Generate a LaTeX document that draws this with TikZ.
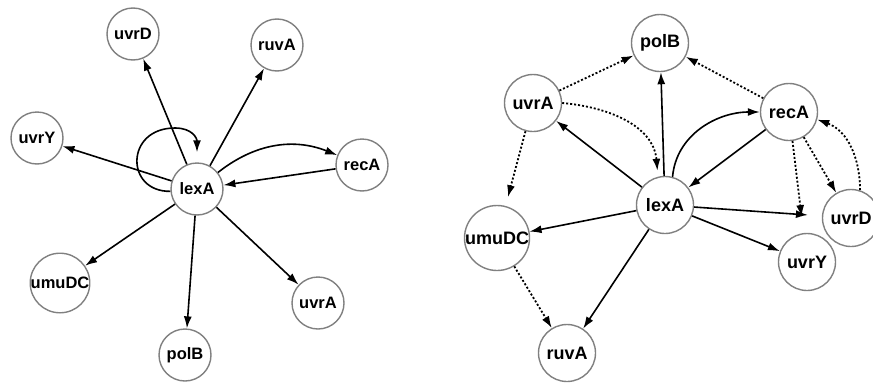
\documentclass[tikz,border=0pt]{standalone}
\usepackage{fontspec}
\setmainfont{Liberation Sans}
\usetikzlibrary{arrows.meta}
\begin{document}
\begin{tikzpicture}[x=1pt,y=-1pt,
  gnode/.style={circle,draw=black!50,line width=1.4pt,fill=white,inner sep=0pt,font=\bfseries\fontsize{16.5}{16.5}\selectfont,minimum size=52pt},
  rnode/.style={gnode,minimum size=57pt,font=\bfseries\fontsize{18}{18}\selectfont},
  sedge/.style={line width=1.6pt,-{Latex[length=12pt,width=8pt]}},
  dedge/.style={sedge,dash pattern=on 2pt off 2pt,line width=1.8pt}]
\useasboundingbox (0,0) rectangle (873,383);

% ---------- left graph ----------
\node[gnode] (LuvrD) at (133,34) {uvrD};
\node[gnode] (LruvA) at (277,45) {ruvA};
\node[gnode] (LuvrY) at (37,138) {uvrY};
\node[gnode] (LrecA) at (362,165) {recA};
\node[gnode] (LlexA) at (197,189) {lexA};
\node[gnode] (LumuDC) at (60,283) {umuDC};
\node[gnode] (LpolB) at (185,355) {polB};
\node[gnode] (LuvrA) at (318,303) {uvrA};

\draw[sedge] (LlexA) -- (LuvrD);
\draw[sedge] (LlexA) -- (LruvA);
\draw[sedge] (LlexA) -- (LuvrY);
\draw[sedge] (LlexA) to[bend left=30] (LrecA);
\draw[sedge] (LrecA) -- (LlexA);
\draw[sedge] (LlexA) -- (LumuDC);
\draw[sedge] (LlexA) -- (LpolB);
\draw[sedge] (LlexA) -- (LuvrA);
\draw[sedge] (LlexA.185) .. controls (125,192) and (125,128) .. (175,128)
  .. controls (192,128) and (197,138) .. ([yshift=10pt]LlexA.north);

% ---------- right graph ----------
\node[rnode] (RpolB) at (660,43) {polB};
\node[rnode] (RuvrA) at (533,103) {uvrA};
\node[rnode] (RrecA) at (789,112) {recA};
\node[rnode] (RlexA) at (665,205) {lexA};
\node[rnode] (RumuDC) at (497,238) {umuDC};
\node[rnode] (RuvrD) at (851,218) {uvrD};
\node[rnode] (RuvrY) at (807,262) {uvrY};
\node[rnode] (RruvA) at (567,353) {ruvA};

\draw[sedge] (RlexA) -- (RpolB);
\draw[sedge] (RlexA) -- (RuvrA);
\draw[sedge] (RlexA.75) to[out=85,in=180] (RrecA.west);
\draw[sedge] (RrecA) -- (RlexA);
\draw[sedge] (RlexA) -- (RumuDC);
\draw[sedge] (RlexA) -- (RruvA);
\draw[sedge] (RlexA) -- (RuvrY);
\draw[sedge,shorten >=14pt] (RlexA) -- (RuvrD);

\draw[dedge] (RuvrA) -- (RpolB);
\draw[dedge] (RrecA) -- (RpolB);
\draw[dedge] (RuvrA.east) to[out=-5,in=95] ([yshift=6pt]RlexA.105);
\draw[dedge,shorten >=9pt] (RuvrA) -- (RumuDC);
\draw[dedge] (RumuDC) -- (RruvA);
\draw[dedge] (RrecA) -- (RuvrD);
\draw[dedge,shorten >=16pt] (RrecA) -- (RuvrY);
\draw[dedge] (RuvrD.72) to[out=90,in=-20] (RrecA.-15);
\end{tikzpicture}
\end{document}
